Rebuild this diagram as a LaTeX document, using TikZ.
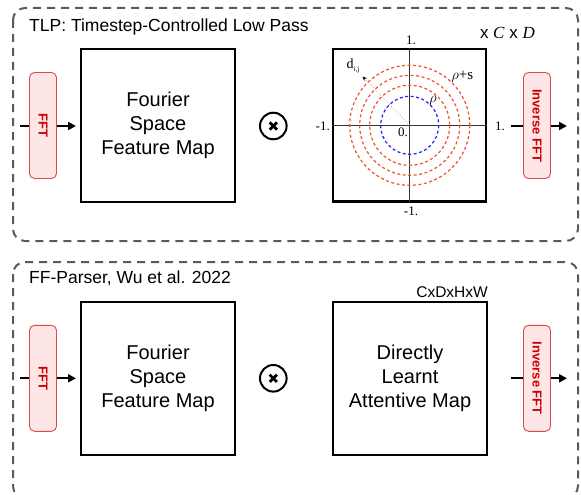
\documentclass[tikz,border=0pt]{standalone}
\usepackage{fontspec}
\setmainfont{Liberation Sans}
\newfontfamily\serifx{Liberation Serif}
\usetikzlibrary{arrows.meta}
\definecolor{outergray}{HTML}{5A5A5A}
\definecolor{fftred}{HTML}{CC0000}
\definecolor{fftborder}{HTML}{D94A4A}
\definecolor{fftfill}{HTML}{FFE6E6}
\definecolor{ringred}{HTML}{F0522C}
\definecolor{ringblue}{HTML}{2323E6}
\definecolor{axisgray}{HTML}{333333}
\tikzset{
  panel/.style={draw=outergray, line width=2pt, dash pattern=on 8pt off 6pt, rounded corners=12pt},
  paneltitle/.style={anchor=base west, inner sep=0pt, font=\fontsize{17.5}{21}\selectfont},
  fftbox/.style={draw=fftborder, fill=fftfill, text=fftred, rounded corners=5pt,
    minimum width=106pt, minimum height=27pt, rotate=-90, inner sep=0pt, line width=0.9pt,
    font=\fontsize{13}{13}\selectfont\bfseries},
  mapbox/.style={draw, line width=2pt, minimum width=154pt, minimum height=153pt,
    align=center, inner sep=0pt, font=\fontsize{20}{24}\selectfont},
  plotbox/.style={draw, line width=2.4pt, minimum width=153pt, minimum height=152pt, inner sep=0pt},
  otimes/.style={draw, circle, line width=2pt, minimum size=26.6pt, inner sep=0pt},
  arr/.style={line width=2pt, -{Triangle[length=8pt,width=8pt]}},
  plotlbl/.style={inner sep=0pt, font=\serifx\fontsize{13}{13}\selectfont},
  redring/.style={draw=ringred, line width=1.2pt, dash pattern=on 3pt off 2.5pt},
  bluering/.style={draw=ringblue, line width=1.2pt, dash pattern=on 3pt off 2.5pt},
}
\begin{document}
\begin{tikzpicture}[x=1pt,y=-1pt]
\useasboundingbox (0,0) rectangle (581,495);
\clip (0,0) rectangle (581,495);

% ---------------- top panel ----------------
\draw[panel] (13,8) rectangle (578,241);
\node[paneltitle] (t1) at (29,31.5) {TLP: Timestep-Controlled Low Pass};

\coordinate (in1) at (20,126);
\node[mapbox] (fm1) at (158,125.5) {Fourier\\Space\\Feature Map};
\draw[arr, shorten >=4pt] (in1) -- (fm1.west |- in1);
\node[fftbox] (fft1) at (43,125.5) {FFT};

\node[otimes] (ot1) at (273.3,126) {};
\draw[line width=2.8pt] (ot1.center) ++(-3.6,-3.6) -- ++(7.2,7.2);
\draw[line width=2.8pt] (ot1.center) ++(-3.6,3.6) -- ++(7.2,-7.2);

\node[plotbox] (plot) at (409.7,125.3) {};
\draw[axisgray, line width=1pt] (plot.west) -- (plot.east);
\draw[axisgray, line width=1pt] (plot.north) -- (plot.south);
\draw[bluering] (plot.center) circle[radius=29];
\draw[redring] (plot.center) circle[radius=40];
\draw[redring] (plot.center) circle[radius=50];
\draw[redring] (plot.center) circle[radius=60];
\coordinate (dtip) at (362.5,76.5);
\draw[gray, line width=0.6pt, dotted, -{Stealth[length=4.5pt,width=4pt,black]}] (plot.center) -- (dtip);
\node[plotlbl, anchor=base] (ytop) at (411,45) {1.};
\node[plotlbl, anchor=base] (ybot) at (411,215) {-1.};
\node[plotlbl, anchor=base east] (xleft) at (330,130) {-1.};
\node[plotlbl, anchor=base west] (xright) at (495,130) {1.};
\node[plotlbl, anchor=base west] (orig) at (398,136.5) {0.};
\node[plotlbl, anchor=center, font=\fontsize{15}{15}\selectfont] (rho) at (433,101) {$\rho$};
\node[plotlbl, anchor=base west, font=\serifx\fontsize{15}{15}\selectfont] (rhos) at (451.5,79.5) {$\rho$+s};
\node[plotlbl, anchor=base west, font=\serifx\fontsize{14}{14}\selectfont] (dij) at (346.5,68.5) {d\raisebox{-2.5pt}{\fontsize{7}{7}\selectfont i,j}};
\node[anchor=base east, inner sep=0pt, font=\fontsize{17}{17}\selectfont] (cd) at (535,38.5)
  {x {\serifx\itshape C} x {\serifx\itshape D}};

\coordinate (o1a) at (511,126);
\coordinate (o1b) at (567,126);
\draw[arr] (o1a) -- (o1b);
\node[fftbox] (ifft1) at (537,125.5) {Inverse FFT};

% ---------------- bottom panel ----------------
\draw[panel] (13,262) rectangle (578,498);
\node[paneltitle] (t2) at (29,283.5) {FF-Parser, Wu et al. 2022};

\coordinate (in2) at (20,378.3);
\node[mapbox] (fm2) at (158,378) {Fourier\\Space\\Feature Map};
\draw[arr, shorten >=4pt] (in2) -- (fm2.west |- in2);
\node[fftbox] (fft2) at (43,378.3) {FFT};

\node[otimes] (ot2) at (273.3,378.3) {};
\draw[line width=2.8pt] (ot2.center) ++(-3.6,-3.6) -- ++(7.2,7.2);
\draw[line width=2.8pt] (ot2.center) ++(-3.6,3.6) -- ++(7.2,-7.2);

\node[mapbox] (am) at (410,378) {Directly\\Learnt\\Attentive Map};
\node[anchor=base east, inner sep=0pt, font=\fontsize{15.5}{15.5}\selectfont] (dims) at (488,297) {CxDxHxW};

\coordinate (o2a) at (511,378.3);
\coordinate (o2b) at (567,378.3);
\draw[arr] (o2a) -- (o2b);
\node[fftbox] (ifft2) at (537,378.3) {Inverse FFT};
\end{tikzpicture}
\end{document}
